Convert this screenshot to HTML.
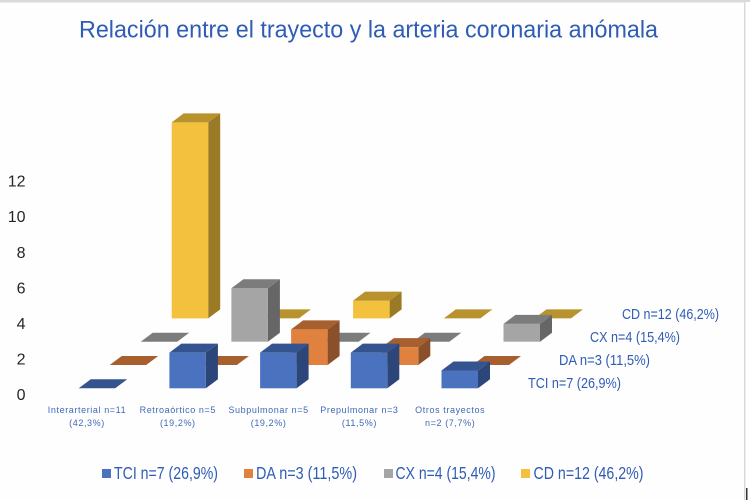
<!DOCTYPE html>
<html lang="es">
<head>
<meta charset="utf-8">
<title>Relación entre el trayecto y la arteria coronaria anómala</title>
<style>
html,body{margin:0;padding:0;background:#fff;}
body{width:750px;height:500px;overflow:hidden;}
svg{display:block;}
text{font-family:"Liberation Sans",sans-serif;}
</style>
</head>
<body>
<svg id="chart" xmlns="http://www.w3.org/2000/svg" width="750" height="500" viewBox="0 0 750 500">
  <rect x="0" y="0" width="750" height="500" fill="#fefefe"/>
  <rect x="0" y="0" width="750" height="2.5" fill="#d9d9d9"/>
  <rect x="744" y="0" width="1.5" height="500" fill="#d9d9d9"/>
  <rect x="745.5" y="2" width="4.5" height="498" fill="#ffffff"/>
  <rect x="746" y="488" width="1.5" height="12" fill="#333333"/>

  <text x="79" y="37.5" font-size="24.5" fill="#2f5cb5" textLength="579" lengthAdjust="spacingAndGlyphs">Relación entre el trayecto y la arteria coronaria anómala</text>

  <g id="y-axis"></g>
  <g id="bars"></g>
  <g id="x-axis"></g>

  <g font-size="15" fill="#2f5cb5">
    <text x="622" y="319" textLength="97" lengthAdjust="spacingAndGlyphs">CD n=12 (46,2%)</text>
    <text x="590" y="342" textLength="90" lengthAdjust="spacingAndGlyphs">CX n=4 (15,4%)</text>
    <text x="559" y="365" textLength="91" lengthAdjust="spacingAndGlyphs">DA n=3 (11,5%)</text>
    <text x="528" y="388" textLength="93" lengthAdjust="spacingAndGlyphs">TCI n=7 (26,9%)</text>
  </g>

  <g font-size="17.5" fill="#2f5cb5">
    <g>
      <rect x="102" y="469" width="9" height="9" fill="#4a72bf"/>
      <text x="114" y="479" textLength="104" lengthAdjust="spacingAndGlyphs">TCI n=7 (26,9%)</text>
    </g>
    <g>
      <rect x="244" y="469" width="9" height="9" fill="#e0813f"/>
      <text x="256" y="479" textLength="101" lengthAdjust="spacingAndGlyphs">DA n=3 (11,5%)</text>
    </g>
    <g>
      <rect x="384" y="469" width="9" height="9" fill="#a5a5a5"/>
      <text x="395.5" y="479" textLength="100" lengthAdjust="spacingAndGlyphs">CX n=4 (15,4%)</text>
    </g>
    <g>
      <rect x="521" y="469" width="9" height="9" fill="#f4c13f"/>
      <text x="533.5" y="479" textLength="110" lengthAdjust="spacingAndGlyphs">CD n=12 (46,2%)</text>
    </g>
  </g>
</svg>
<script>
var categoriesLine1 = ["Interarterial n=11", "Retroaórtico n=5", "Subpulmonar n=5", "Prepulmonar n=3", "Otros trayectos"];
var categoriesLine2 = ["(42,3%)", "(19,2%)", "(19,2%)", "(11,5%)", "n=2 (7,7%)"];
var yTickValues = [0, 2, 4, 6, 8, 10, 12];
var seriesKeys = ["tci", "da", "cx", "cd"];
var tciValues = [0, 2, 2, 2, 1];
var daValues = [0, 0, 2, 1, 0];
var cxValues = [0, 3, 0, 0, 1];
var cdValues = [11, 0, 1, 0, 0];

var svgNS = "http://www.w3.org/2000/svg";
var seriesValues = [tciValues, daValues, cxValues, cdValues];
var frontColors = ["#4a72bf", "#e0813f", "#a5a5a5", "#f4c13f"];
var topColors = ["#35548f", "#a85f2e", "#7c7c7c", "#b8922c"];
var sideColors = ["#2c4679", "#8a5029", "#666666", "#9b7a26"];

var unitPx = 17.82;
var barWidth = 36.5;
var depthX = 12;
var depthY = 9;

function xPos(seriesIndex, categoryIndex) {
  return 78.7 + 31 * seriesIndex + 90.7 * categoryIndex;
}
function baseY(seriesIndex) {
  return 388.3 - 23.3 * seriesIndex;
}
function barHeight(value) {
  return value * unitPx;
}
function tickY(value) {
  return 394.5 - value * 17.78;
}
function categoryCenter(categoryIndex) {
  return 87 + 90.8 * categoryIndex;
}
function make(tag, attrs, parent) {
  var el = document.createElementNS(svgNS, tag);
  for (var k in attrs) { el.setAttribute(k, attrs[k]); }
  parent.appendChild(el);
  return el;
}
function pts(list) {
  return list.map(function (p) { return p[0].toFixed(2) + "," + p[1].toFixed(2); }).join(" ");
}

function drawYAxis() {
  var yAxisGroup = document.getElementById("y-axis");
  yTickValues.forEach(function (v) {
    var t = make("text", { x: 25.5, y: tickY(v) + 5.5, "text-anchor": "end", "font-size": 16, fill: "#262626" }, yAxisGroup);
    
    
    t.textContent = String(v);
  });
}

function drawBars() {
  var barsGroup = document.getElementById("bars");
  for (var s = seriesValues.length - 1; s >= 0; s--) {
    for (var c = 0; c < seriesValues[s].length; c++) {
      var g = make("g", {}, barsGroup);
      
      
      var x0 = xPos(s, c);
      var x1 = x0 + barWidth;
      var yb = baseY(s);
      var h = barHeight(seriesValues[s][c]);
      var yt = yb - h;
      if (h > 0) {
        var sideFace = make("polygon", { points: pts([[x1, yb], [x1 + depthX, yb - depthY], [x1 + depthX, yt - depthY], [x1, yt]]), fill: sideColors[s] }, g);
        
        
        var frontFace = make("rect", { x: x0, y: yt, width: barWidth, height: h, fill: frontColors[s] }, g);
        
        
      }
      var topFace = make("polygon", { points: pts([[x0, yt], [x1, yt], [x1 + depthX, yt - depthY], [x0 + depthX, yt - depthY]]), fill: topColors[s] }, g);
      
      
    }
  }
}

function drawCategories() {
  var xAxisGroup = document.getElementById("x-axis");
  categoriesLine1.forEach(function (label, i) {
    var a = make("text", { x: categoryCenter(i), y: 413, "text-anchor": "middle", "font-size": 9, "letter-spacing": 0.6, fill: "#3f68b8" }, xAxisGroup);
    
    
    a.textContent = label;
    var b = make("text", { x: categoryCenter(i), y: 426, "text-anchor": "middle", "font-size": 9, "letter-spacing": 0.6, fill: "#3f68b8" }, xAxisGroup);
    
    
    b.textContent = categoriesLine2[i];
  });
}

drawYAxis();
drawBars();
drawCategories();
</script>
</body>
</html>
